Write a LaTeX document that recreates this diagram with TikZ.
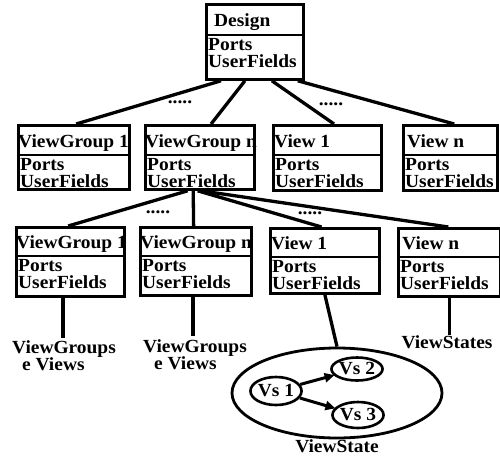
\documentclass[tikz,border=0pt]{standalone}
\usepackage{fontspec}
\setmainfont{Liberation Serif}[FakeStretch=1.05]
\usetikzlibrary{shapes.geometric,arrows.meta,calc}

\newcommand\dgfont{\fontsize{18.5}{16.2}\selectfont\bfseries}

\tikzset{
  frame/.style={draw, line width=2.8pt, inner sep=0pt, anchor=north west},
  divider/.style={line width=2.2pt},
  conn/.style={line width=3.3pt},
  txt/.style={inner sep=0pt, font=\dgfont},
  dots/.style={inner sep=0pt, font=\dgfont},
  state/.style={ellipse, draw, line width=2.6pt, inner sep=0pt, font=\dgfont},
  trans/.style={line width=3pt, -{Triangle[length=10pt,width=9pt]}, shorten >=-1pt},
}

% object box: name, x1, y1, x2, y2, y of divider, title inset, title
\newcommand\objbox[8]{%
  \node[frame, minimum width={#4pt-#2pt}, minimum height={#5pt-#3pt}] (#1) at (#2,#3) {};
  \coordinate (#1-d) at (#2,#6);
  \draw[divider] (#1.west |- #1-d) -- (#1.east |- #1-d);
  \node[txt, anchor=base west] (#1-t) at ({#2+#7},{#6-8}) {#8};
  \node[txt, anchor=north west, align=left] (#1-b) at ({#2+3},{#6+3.5}) {Ports\\UserFields};
}

\begin{document}
\begin{tikzpicture}[x=1pt, y=-1pt]
  \useasboundingbox (0,0) rectangle (500,455);

  % top level
  \objbox{d}{205}{3}{302}{78}{35}{9}{Design}

  % second level
  \objbox{a1}{17}{124}{128}{188}{155}{1}{ViewGroup 1}
  \objbox{a2}{144}{124}{253}{188}{155}{1}{ViewGroup n}
  \objbox{b1}{272}{124}{380}{189}{155}{2}{View 1}
  \objbox{b2}{402}{124}{496}{189}{155}{5}{View n}

  % third level
  \objbox{c1}{15}{226}{123}{295}{256}{1}{ViewGroup 1}
  \objbox{c2}{139}{226}{250}{294}{256}{1}{ViewGroup n}
  \objbox{e1}{269}{227}{378}{292}{257}{2}{View 1}
  \objbox{e2}{397}{227}{499}{295}{257}{5}{View n}

  % links from Design
  \draw[conn] ($(d.south west)!.16!(d.south east)$) -- ($(a1.north west)!.52!(a1.north east)$);
  \draw[conn] ($(d.south west)!.40!(d.south east)$) -- ($(a2.north west)!.60!(a2.north east)$);
  \draw[conn] ($(d.south west)!.67!(d.south east)$) -- ($(b1.north west)!.56!(b1.north east)$);
  \draw[conn] ($(d.south west)!.93!(d.south east)$) -- ($(b2.north west)!.54!(b2.north east)$);
  \node[dots] (dt1) at (180,102) {.....};
  \node[dots] (dt2) at (331,104) {.....};

  % links from ViewGroup n
  \draw[conn] ($(a2.south west)!.39!(a2.south east)$) -- ($(c1.north west)!.48!(c1.north east)$);
  \draw[conn] ($(a2.south west)!.44!(a2.south east)$) -- ($(c2.north west)!.48!(c2.north east)$);
  \draw[conn] ($(a2.south west)!.48!(a2.south east)$) -- ($(e1.north west)!.47!(e1.north east)$);
  \draw[conn] ($(a2.south west)!.51!(a2.south east)$) -- ($(e2.north west)!.49!(e2.north east)$);
  \node[dots] (dt3) at (158,212) {.....};
  \node[dots] (dt4) at (310,213) {.....};

  % leaves
  \node[txt, align=left, anchor=north west] (l1) at (12,340) {ViewGroups\\\hspace*{10pt}e Views};
  \node[txt, align=left, anchor=north west] (l2) at (143,339) {ViewGroups\\\hspace*{11pt}e Views};
  \node[txt, anchor=north] (l3) at (447,335) {ViewStates};
  \coordinate (f1) at (63,338);
  \coordinate (f2) at (193,336);
  \draw[conn] (c1.south -| f1) -- (f1);
  \draw[conn] (c2.south -| f2) -- (f2);
  \draw[conn] (e2.south) -- (e2.south |- l3.north);

  % view states
  \node[ellipse, draw, line width=2.8pt, minimum width=210pt, minimum height=90pt] (vsbox) at (337,393) {};
  \node[txt, anchor=base] (l4) at (337,452) {ViewState};
  \draw[conn] (e1.south) -- (vsbox.north);

  \node[state, minimum width=48pt, minimum height=28pt] (vs1) at (276,391) {Vs 1};
  \node[state, minimum width=42pt, minimum height=23pt] (vs2) at (357,369) {Vs 2};
  \node[state, minimum width=44pt, minimum height=26pt] (vs3) at (358,415) {Vs 3};
  \draw[trans] (vs1) -- (vs2);
  \draw[trans] (vs1) -- (vs3);
\end{tikzpicture}
\end{document}
